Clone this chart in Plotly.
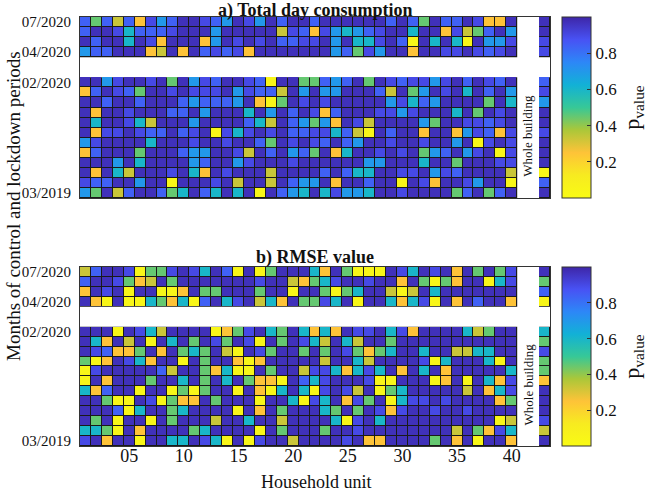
import numpy as np
import plotly.graph_objects as go

# ---------------- data ----------------
# p-value classes read from the colour of each cell (colour -> estimated p-value)
PVAL = {"D": 0.97, "N": 0.90, "B": 0.84, "L": 0.70, "C": 0.60,
        "G": 0.45, "O": 0.33, "Y": 0.25, "y": 0.04}

n_households = 40
household_ticks = [5, 10, 15, 20, 25, 30, 35, 40]
household_ticktext = ["05", "10", "15", "20", "25", "30", "35", "40"]

lockdown_months = ["07/2020", "06/2020", "05/2020", "04/2020"]          # top block, top -> bottom
control_months = ["02/2020", "01/2020", "12/2019", "11/2019", "10/2019", "09/2019",
                  "08/2019", "07/2019", "06/2019", "05/2019", "04/2019", "03/2019"]
month_ticks_shown = ["07/2020", "04/2020", "02/2020", "03/2019"]

# each string: households 01..40 followed by the whole building
total_lockdown = [
    "BGBOBYNLBDDNBLDNLDBDD" + "BDDDDDDBDB" + "GDBBDNYYD" + "D",
    "BDDNCBBBNDDDLDDDDDONB" + "YNLCLBNDDC" + "DDYNOGBDL" + "D",
    "DBDDCDNYDDDYLDNDNDBBN" + "NDLDCCNDBy" + "DCDCyDLLN" + "N",
    "LBBDDDYODYDBNBNYDDDDD" + "DDLBGNLDDY" + "DDNNDNBND" + "N",
]
total_control = [
    "DDLNDDNDGDLNBDDNByDDG" + "GBLBDGDNBN" + "NLNDBDNBD" + "B",
    "YBDNBGDDNDNNNDLNBBODL" + "DLLDDDBODG" + "LDNDCDBDL" + "N",
    "DDBDDBDDDBLBBBLDYyGDN" + "DNDDDDDLNC" + "BLDDDDGDC" + "L",
    "DYDDNDDDBBDLDDDCDLDBD" + "NYBDDDNNLN" + "DDDCDGDND" + "D",
    "DCDDNCODDDLDDDDBCODBL" + "GLYDNODDDD" + "LGDDNNBND" + "D",
    "DYNNDNBBDBNDyNCNDNDBB" + "NNCBOyDBDD" + "YDDYLNBYN" + "N",
    "LNDDDDCDDDNDDNDDBGDND" + "NBDBLDDNDD" + "NDDLDyNDN" + "D",
    "YBDDDGDDDBLLDDNODBDLB" + "GDYCDDNDND" + "GLBDLNDyN" + "D",
    "DDDLDCDDDDLBDDLNDDDND" + "DDDDDLLDDD" + "CDDGDDDNN" + "D",
    "DYDCODDDNDCYDNDDDODDD" + "DBDBCCDDNN" + "DLNBDDDDO" + "y",
    "NBBDDLDDyDDDNDODDODBL" + "LDYDDBDDyD" + "NYDDNLDDy" + "B",
    "LGDOBDDBGCDBCDCDyDBLC" + "DCNLLCDDND" + "DDDGBDGBD" + "D",
]
rmse_lockdown = [
    "OBDDNyGGNDNCDByDyGDDD" + "CYDGyyyDNC" + "DNDYDGDGN" + "D",
    "BDDNGYODGDDDDDDDNDDOY" + "GCNDDNDDYD" + "GyGYDDyCN" + "G",
    "YDNDyDDyyYDGGDDDGDDyD" + "DGyGCDDOyO" + "DCDDDDDDD" + "B",
    "DYyDyyCGYCyBDCNDOCYDG" + "GNCDyDDCYC" + "NyDYDBDDY" + "y",
]
rmse_control = [
    "DDDyDNCODDDDyYGNDCGDC" + "YCYDNNDCNY" + "DDDDCOGDD" + "C",
    "DCYDODyDCDGDNGDNyDGDN" + "CODCODDGDD" + "DDDDDDDDD" + "G",
    "DNBYYGDYDGCGDOyDNGDDG" + "DGDNGYGCDD" + "CDDOOCCDD" + "N",
    "GyYDNCYDDyDGDDYyYDDDD" + "DODDCODDDD" + "NyCDDDCyD" + "G",
    "yNDDDDDBODDGYCyyDGDDO" + "NNCYCNCDYD" + "CDYDDDDDC" + "G",
    "yDYDDDGDDCDGDCDGYYyDB" + "CNDDDNyyDD" + "DyYDyDCYN" + "Y",
    "CYBDDyDDyGyGDDyDYyCDC" + "yNDNODyGCD" + "DDDDODYCN" + "D",
    "DDGyyDNyGYYDGDDDyDDCy" + "NCDYNGDyCN" + "NDNDDDDYG" + "D",
    "DDDByCDDGCDDDDyDYDGDD" + "DCGDGDNYND" + "DNDDNDDDD" + "D",
    "DGDyDDyDGDDDODDCDDODD" + "DDCyNDCDDD" + "DDDDDDDyO" + "N",
    "CCGyDYDDDDGCDDDDyDGDD" + "DGDDNDDDDD" + "DDDODGYNC" + "O",
    "NDYDDyDDCCDNCyDyNDDOD" + "DDDNDYYDDD" + "DGDYDyDDY" + "D",
]

# ---------------- layout helpers ----------------
GAP_COLS = 2     # blank columns between households and whole building
GAP_ROWS = 2     # blank rows between control and lockdown months
n_ctrl = len(control_months)
n_lock = len(lockdown_months)
n_rows = n_ctrl + GAP_ROWS + n_lock
bldg_col = n_households + GAP_COLS + 1
n_cols = bldg_col
xs = list(range(1, n_cols + 1))
ys = list(range(1, n_rows + 1))

row_pos = {}
for i, m in enumerate(control_months):
    row_pos[m] = n_ctrl - i
for i, m in enumerate(lockdown_months):
    row_pos[m] = n_rows - i


def build(lock_rows, ctrl_rows):
    z = np.full((n_rows, n_cols), np.nan)
    for months, rows in ((lockdown_months, lock_rows), (control_months, ctrl_rows)):
        for m, s in zip(months, rows):
            r = row_pos[m] - 1
            for j in range(n_households):
                z[r, j] = PVAL[s[j]]
            z[r, bldg_col - 1] = PVAL[s[n_households]]
    return z


# reversed parula-like scale (low p = yellow, high p = dark blue)
parula_rev = [
    [0.000, "#F9FB14"], [0.125, "#F7EB20"], [0.250, "#FEC338"], [0.375, "#ABC739"],
    [0.500, "#37C897"], [0.625, "#12B1D6"], [0.750, "#2D87F7"], [0.875, "#4852F4"],
    [1.000, "#3E26A8"],
]

FONT = "Liberation Serif"
W, H = 653, 492
ML, MR, MT, MB = 80, 103, 17, 46
plot_w = W - ML - MR
plot_h = H - MT - MB
top_dom = [1 - 181 / plot_h, 1.0]
bot_dom = [0.0, 179 / plot_h]

fig = go.Figure()


def colorbar(dom):
    return dict(
        x=(562 - ML) / plot_w, xanchor="left", xpad=0, ypad=0,
        y=dom[1], yanchor="top", len=dom[1] - dom[0], lenmode="fraction",
        thickness=29, thicknessmode="pixels",
        tickvals=[0.2, 0.4, 0.6, 0.8], ticks="inside", ticklen=4, tickcolor="#333",
        outlinewidth=1, outlinecolor="#333",
        tickfont=dict(family=FONT, size=17, color="#111"),
        title=dict(text="p<sub>value</sub>", side="right",
                   font=dict(family=FONT, size=22, color="#111")),
    )


for k, (lock, ctrl, dom) in enumerate(((total_lockdown, total_control, top_dom),
                                        (rmse_lockdown, rmse_control, bot_dom))):
    xa = "x" if k == 0 else "x2"
    ya = "y" if k == 0 else "y2"
    fig.add_trace(go.Heatmap(
        x=xs, y=ys, z=build(lock, ctrl), xaxis=xa, yaxis=ya,
        colorscale=parula_rev, zmin=0, zmax=1, xgap=1, ygap=1,
        colorbar=colorbar(dom), hoverongaps=False,
    ))
    # dark backing under the cell blocks so that the cell gaps read as black edges
    blocks_x = [(0.5, n_households + 0.5), (bldg_col - 0.5, bldg_col + 0.5)]
    blocks_y = [(0.5, n_ctrl + 0.5), (n_rows - n_lock + 0.5, n_rows + 0.5)]
    for bx in blocks_x:
        for by in blocks_y:
            fig.add_shape(type="rect", xref=xa, yref=ya, x0=bx[0], x1=bx[1],
                          y0=by[0], y1=by[1], fillcolor="#1a1a1a",
                          line=dict(width=0), layer="below")
    fig.add_annotation(x=n_households + (GAP_COLS + 1) / 2, y=6.7, xref=xa, yref=ya,
                       text="Whole building", textangle=-90, showarrow=False,
                       xanchor="center", yanchor="middle",
                       font=dict(family=FONT, size=13, color="#111"))

axis_common = dict(range=[0.5, n_cols + 0.5], showgrid=False, zeroline=False,
                   showline=True, mirror=True, linecolor="#333", linewidth=1,
                   ticks="")
yaxis_common = dict(range=[0.5, n_rows + 0.5], showgrid=False, zeroline=False,
                    showline=True, mirror=True, linecolor="#333", linewidth=1,
                    ticks="", tickvals=[row_pos[m] for m in month_ticks_shown],
                    ticktext=month_ticks_shown, ticklabelstandoff=5,
                    tickfont=dict(family=FONT, size=15, color="#111"))

fig.update_layout(
    width=W, height=H,
    margin=dict(l=ML, r=MR, t=MT, b=MB, autoexpand=False),
    paper_bgcolor="white", plot_bgcolor="white",
    font=dict(family=FONT, color="#111"),
    xaxis=dict(axis_common, domain=[0, 1], anchor="y", showticklabels=False),
    yaxis=dict(yaxis_common, domain=top_dom, anchor="x"),
    xaxis2=dict(axis_common, domain=[0, 1], anchor="y2", tickvals=household_ticks,
                ticktext=household_ticktext, ticklabelstandoff=-7,
                tickfont=dict(family=FONT, size=18, color="#111")),
    yaxis2=dict(yaxis_common, domain=bot_dom, anchor="x2"),
    showlegend=False,
)

fig.add_annotation(x=0.5, y=1 + (MT - 10) / plot_h, xref="paper", yref="paper",
                   text="<b>a) Total day consumption</b>", showarrow=False,
                   xanchor="center", yanchor="middle",
                   font=dict(family=FONT, size=18, color="#111"))
fig.add_annotation(x=0.5, y=(H - MB - 257) / plot_h, xref="paper", yref="paper",
                   text="<b>b) RMSE value</b>", showarrow=False,
                   xanchor="center", yanchor="middle",
                   font=dict(family=FONT, size=18, color="#111"))
fig.add_annotation(x=(14 - ML) / plot_w, y=(H - MB - 206) / plot_h, xref="paper",
                   yref="paper", text="Months of control and lockdown periods",
                   textangle=-90, showarrow=False, xanchor="center", yanchor="middle",
                   font=dict(family=FONT, size=19, color="#111"))
fig.add_annotation(x=(316 - ML) / plot_w, y=(H - MB - 482) / plot_h, xref="paper",
                   yref="paper", text="Household unit", showarrow=False,
                   xanchor="center", yanchor="middle",
                   font=dict(family=FONT, size=18, color="#111"))

fig.write_html("out.html", config={"displayModeBar": False},
               post_script="document.body.style.margin='0px';"
                           "document.body.style.padding='0px';"
                           "document.body.style.overflow='hidden';")
